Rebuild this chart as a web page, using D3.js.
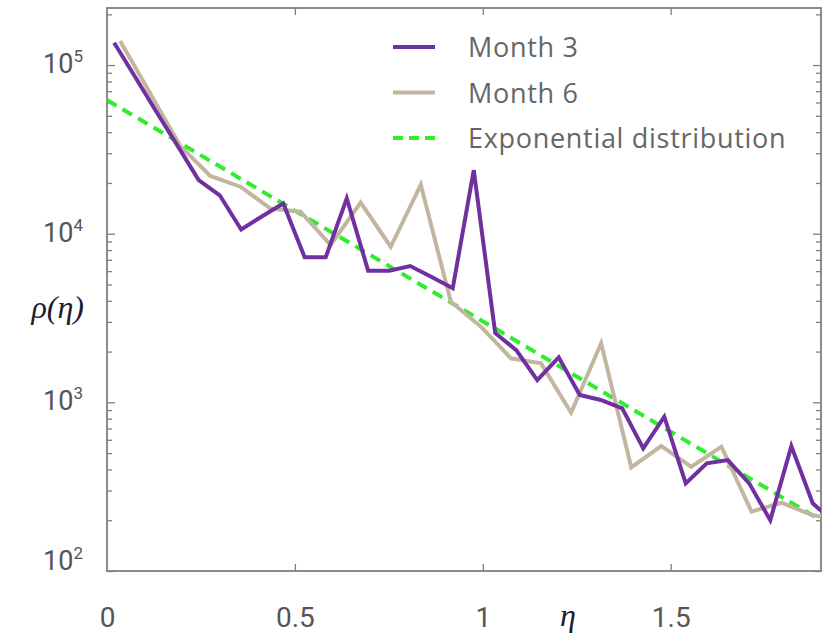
<!DOCTYPE html>
<html>
<head>
<meta charset="utf-8">
<script src="https://cdn.jsdelivr.net/npm/d3@7"></script>
<style>
  body { margin: 0; background: #fff; }
  svg { display: block; }
</style>
</head>
<body>
<div id="chart"></div>
<script>
// data
const eta3 = [0.019, 0.075, 0.131, 0.188, 0.244, 0.300, 0.357, 0.413, 0.469, 0.526, 0.582, 0.638,
  0.695, 0.751, 0.807, 0.864, 0.920, 0.976, 1.033, 1.089, 1.145, 1.202, 1.258, 1.314, 1.371,
  1.427, 1.483, 1.540, 1.596, 1.652, 1.709, 1.765, 1.821, 1.878, 1.934];
const rho3 = [135500, 84900, 53100, 33200, 20800, 16900, 10600, 12700, 15100, 7250, 7250, 16200,
  6030, 6030, 6430, 5540, 4750, 23800, 2580, 2040, 1356, 1848, 1107, 1033, 922,
  534, 822, 331, 435, 455, 331, 200, 550, 252, 195];

const eta6 = [0.035, 0.115, 0.195, 0.275, 0.355, 0.435, 0.515, 0.595, 0.675, 0.755, 0.835, 0.915,
  0.995, 1.075, 1.155, 1.235, 1.315, 1.395, 1.475, 1.555, 1.635, 1.715, 1.795, 1.875, 1.955];
const rho6 = [139000, 67800, 33100, 22000, 19000, 14100, 13500, 8570, 15300, 8370, 19500, 3950,
  2810, 1825, 1703, 868, 2240, 412, 551, 415, 546, 225, 254, 215, 198];

// exponential fit: straight on a log axis, two ends are enough
const etaExp = [0, 1.9];
const rhoExp = [62000, 200];

const xTicks = [0, 0.5, 1, 1.5];
const xTickLabels = ["0", "0.5", "1", "1.5"];
const yTicks = [100, 1000, 10000, 100000];
const yTickExps = ["2", "3", "4", "5"];
const legendNames = ["Month 3", "Month 6", "Exponential distribution"];

const width = 823, height = 635;
const margin = { left: 107, right: 2, top: 8, bottom: 64 };
const innerW = width - margin.left - margin.right;
const innerH = height - margin.top - margin.bottom;

const purple = "#7030a0", tan = "#c3b69f", green = "#2ded2d";
const axisGrey = "#808080";

const svg = d3.select("#chart").append("svg")
  .attr("width", width).attr("height", height);

const g = svg.append("g").attr("transform", "translate(" + margin.left + "," + margin.top + ")");

const x = d3.scaleLinear().domain([0, 1.9]).range([0, innerW]);
const y = d3.scaleLog().domain([100, 218000]).range([innerH, 0]);

// minor ticks 2..9 per decade
let minors = [];
for (let k = 2; k <= 5; k++) {
  for (let m = 2; m <= 9; m++) {
    let v = m * Math.pow(10, k);
    if (v < y.domain()[1]) minors.push(v);
  }
}

svg.append("defs").append("clipPath").attr("id", "plotclip")
  .append("rect").attr("width", innerW).attr("height", innerH);

// axes, all ticks point inward
function styleAxis(sel) {
  sel.select(".domain").remove();
  sel.selectAll(".tick line").attr("stroke", axisGrey).attr("stroke-width", 1.3);
}

g.append("g").call(d3.axisRight(y).tickValues(yTicks).tickSize(8).tickFormat("")).call(styleAxis);
g.append("g").call(d3.axisRight(y).tickValues(minors).tickSize(5).tickFormat("")).call(styleAxis);
g.append("g").attr("transform", "translate(" + innerW + ",0)")
  .call(d3.axisLeft(y).tickValues(yTicks).tickSize(8).tickFormat("")).call(styleAxis);
g.append("g").attr("transform", "translate(" + innerW + ",0)")
  .call(d3.axisLeft(y).tickValues(minors).tickSize(5).tickFormat("")).call(styleAxis);

const xAxis = g.append("g").attr("transform", "translate(0," + innerH + ")")
  .call(d3.axisBottom(x).tickValues(xTicks).tickSize(-7).tickPadding(36)
    .tickFormat((d, i) => xTickLabels[i]));
styleAxis(xAxis);
xAxis.selectAll(".tick text")
  .attr("fill", "#555").attr("font-family", "Roboto, sans-serif").attr("font-size", 28);
xAxis.selectAll(".tick").filter(d => d === 0).select("line").remove();

const xTop = g.append("g")
  .call(d3.axisTop(x).tickValues(xTicks.slice(1)).tickSize(-7).tickFormat(""));
styleAxis(xTop);

// frame
g.append("rect").attr("width", innerW).attr("height", innerH)
  .attr("fill", "none").attr("stroke", axisGrey).attr("stroke-width", 1.8);

// y tick labels 10^k
yTicks.forEach((v, i) => {
  let cy = Math.min(y(v) - 2, innerH - 11);
  let t = g.append("text")
    .attr("x", -24).attr("y", cy + 10)
    .attr("text-anchor", "end")
    .attr("fill", "#555").attr("font-family", "Roboto, sans-serif").attr("font-size", 27);
  t.append("tspan").text("10");
  t.append("tspan").attr("dy", -11).attr("font-size", 17).text(yTickExps[i]);
});

// axis titles
svg.append("text").attr("x", 84).attr("y", 318).attr("text-anchor", "end")
  .attr("font-family", "'Liberation Serif', serif").attr("font-style", "italic")
  .attr("font-size", 32).attr("fill", "#1c1c2c").text("ρ(η)");
svg.append("text").attr("x", 568).attr("y", 626).attr("text-anchor", "middle")
  .attr("font-family", "'Liberation Serif', serif").attr("font-style", "italic")
  .attr("font-size", 32).attr("fill", "#1c1c2c").text("η");

// lines
const line = d3.line().x(d => x(d[0])).y(d => y(d[1]));
const plot = g.append("g").attr("clip-path", "url(#plotclip)");

plot.append("path").datum(d3.zip(etaExp, rhoExp))
  .attr("d", line).attr("fill", "none").attr("stroke", green)
  .attr("stroke-width", 4).attr("stroke-dasharray", "11,7");

plot.append("path").datum(d3.zip(eta6, rho6))
  .attr("d", line).attr("fill", "none").attr("stroke", tan)
  .attr("stroke-width", 4).attr("stroke-linejoin", "miter");

plot.append("path").datum(d3.zip(eta3, rho3))
  .attr("d", line).attr("fill", "none").attr("stroke", purple)
  .attr("stroke-width", 4).attr("stroke-linejoin", "miter");

// legend
const legColors = [purple, tan, green];
const legend = svg.append("g").attr("transform", "translate(393,47)");
legendNames.forEach((name, i) => {
  let row = legend.append("g").attr("transform", "translate(0," + (i * 45.5) + ")");
  row.append("line").attr("x1", 0).attr("x2", 42)
    .attr("stroke", legColors[i]).attr("stroke-width", 4)
    .attr("stroke-dasharray", i === 2 ? "10,6" : null);
  row.append("text").attr("x", 75).attr("y", 10)
    .attr("fill", "#666").attr("font-family", "'Open Sans', sans-serif").attr("font-size", 27)
    .attr("letter-spacing", 0.7)
    .text(name);
});
</script>
</body>
</html>
